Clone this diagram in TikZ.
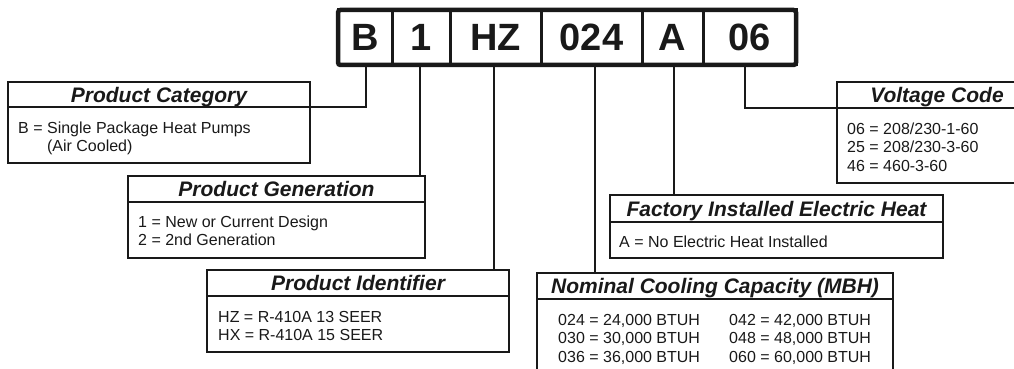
\documentclass[tikz,border=0pt]{standalone}
\usepackage{fontspec}
\setmainfont{Liberation Sans}
\begin{document}
\begin{tikzpicture}[x=1pt,y=-1pt,
  conn/.style={draw=black!90, line width=2pt},
  cell/.style={draw=black!90, line width=3pt, rectangle, inner sep=0pt, outer sep=0pt, minimum height=55pt, anchor=north west, font=\fontsize{38}{40}\selectfont\bfseries, text=black!90},
  hdr/.style={draw=black!90, line width=2.6pt, rectangle, inner sep=0pt, outer sep=0pt, anchor=north west, font=\fontsize{21}{24}\selectfont\bfseries\itshape, text=black!90, text height=15pt, text depth=0pt},
  bdy/.style={draw=black!90, line width=2.6pt, rectangle, inner sep=0pt, outer sep=0pt, anchor=north west},
  txt/.style={anchor=base west, inner sep=0pt, font=\fontsize{16}{18}\selectfont, text=black!90},
]
\useasboundingbox (0,0) rectangle (1014,369);
\clip (0,0) rectangle (1014,369);

% model code cells
\node[cell, minimum width=54pt] (cB) at (338,10) {B};
\node[cell, minimum width=58pt] (c1) at (392,10) {1};
\node[cell, minimum width=91pt] (cHZ) at (450,10) {HZ};
\node[cell, minimum width=101pt] (c024) at (541,10) {024};
\node[cell, minimum width=61pt] (cA) at (642,10) {A};
\node[cell, minimum width=93pt] (c06) at (703,10) {06};
\draw[draw=black!90, line width=4.5pt, rounded corners=2.5pt] (cB.north west) rectangle (c06.south east);

% Product Category
\node[hdr, minimum width=302pt, minimum height=25pt] (catH) at (8,82) {Product Category};
\node[bdy, minimum width=302pt, minimum height=56pt] (catB) at (catH.south west) {};
\node[txt] (cat1) at (18,133) {B = Single Package Heat Pumps};
\node[txt] (cat2) at (18,151.5) {\phantom{B = }(Air Cooled)};

% Product Generation
\node[hdr, minimum width=297pt, minimum height=26pt] (genH) at (128,176) {Product Generation};
\node[bdy, minimum width=297pt, minimum height=56pt] (genB) at (genH.south west) {};
\node[txt] (gen1) at (138,227) {1 = New or Current Design};
\node[txt] (gen2) at (138,245.5) {2 = 2nd Generation};

% Product Identifier
\node[hdr, minimum width=302pt, minimum height=26pt] (idH) at (207,270) {Product Identifier};
\node[bdy, minimum width=302pt, minimum height=56pt] (idB) at (idH.south west) {};
\node[txt] (id1) at (218,322) {HZ = R-410A 13 SEER};
\node[txt] (id2) at (218,340.5) {HX = R-410A 15 SEER};

% Factory Installed Electric Heat
\node[hdr, minimum width=333pt, minimum height=27pt] (facH) at (610,195) {Factory Installed Electric Heat};
\node[bdy, minimum width=333pt, minimum height=36pt] (facB) at (facH.south west) {};
\node[txt] (fac1) at (619,247) {A = No Electric Heat Installed};

% Nominal Cooling Capacity
\node[hdr, minimum width=356pt, minimum height=26pt] (nomH) at (537,273) {Nominal Cooling Capacity (MBH)};
\node[bdy, minimum width=356pt, minimum height=90pt] (nomB) at (nomH.south west) {};
\node[txt] (nom1) at (558,325) {024 = 24,000 BTUH};
\node[txt] (nom2) at (558,343.5) {030 = 30,000 BTUH};
\node[txt] (nom3) at (558,362) {036 = 36,000 BTUH};
\node[txt] (nom4) at (729,325) {042 = 42,000 BTUH};
\node[txt] (nom5) at (729,343.5) {048 = 48,000 BTUH};
\node[txt] (nom6) at (729,362) {060 = 60,000 BTUH};

% Voltage Code
\node[hdr, minimum width=226pt, minimum height=26pt] (volH) at (837,82) {\hspace*{0pt}Voltage Code\hspace*{26pt}};
\node[bdy, minimum width=226pt, minimum height=75pt] (volB) at (volH.south west) {};
\node[txt] (vol1) at (847,134) {06 = 208/230-1-60};
\node[txt] (vol2) at (847,152.5) {25 = 208/230-3-60};
\node[txt] (vol3) at (847,171) {46 = 460-3-60};

% connectors
\draw[conn] ([xshift=1pt]cB.south) |- (catH.south east);
\draw[conn] ([xshift=-1pt]c1.south) -- ([xshift=-1pt]c1.south |- genH.north);
\draw[conn] ([xshift=-2pt]cHZ.south) -- ([xshift=-2pt]cHZ.south |- idH.north);
\draw[conn] ([xshift=3.5pt]c024.south) -- ([xshift=3.5pt]c024.south |- nomH.north);
\draw[conn] ([xshift=1.5pt]cA.south) -- ([xshift=1.5pt]cA.south |- facH.north);
\draw[conn] ([xshift=-4.5pt]c06.south) |- (volH.south west);
\end{tikzpicture}
\end{document}
